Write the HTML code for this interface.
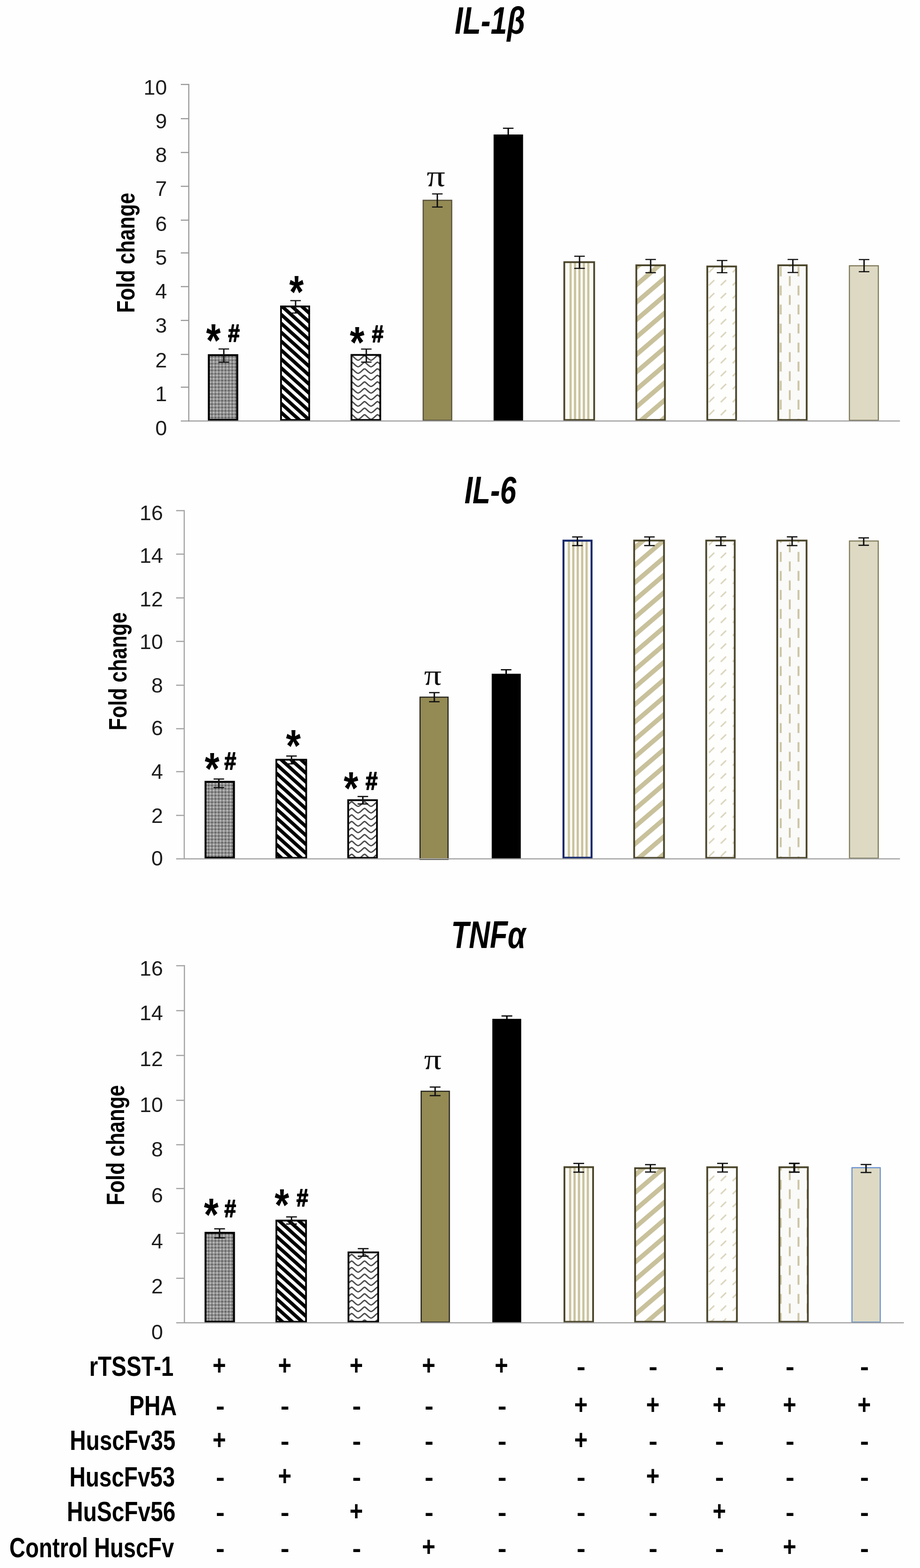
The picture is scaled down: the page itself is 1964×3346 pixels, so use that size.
<!DOCTYPE html>
<html lang="en">
<head>
<meta charset="utf-8">
<title>Cytokine fold change: IL-1β, IL-6, TNFα</title>
<style>
html,body{margin:0;padding:0;background:#fff;}
body{width:1964px;height:3346px;overflow:hidden;}
svg{display:block;}
text{white-space:pre;}
</style>
</head>
<body>
<svg width="1964" height="3346" viewBox="0 0 1964 3346" role="img" aria-label="Bar charts of IL-1β, IL-6 and TNFα fold change">
<rect width="1964" height="3346" fill="#fefefe"/>
<defs>
<pattern id="p1" width="7.2" height="7.2" patternUnits="userSpaceOnUse" patternTransform="translate(447 0)">
  <rect width="7.2" height="7.2" fill="#909090"/>
  <rect x="0.7" y="0.7" width="2.5" height="2.5" fill="#d6d6d6"/>
  <rect x="4.3" y="4.3" width="2.5" height="2.5" fill="#4a4a4a"/>
</pattern>
<pattern id="p2" width="20" height="19" patternUnits="userSpaceOnUse" patternTransform="translate(602.2 705.9) skewY(42)">
  <rect width="20" height="19" fill="#fff"/>
  <rect x="0" y="0" width="20" height="10" fill="#000"/>
</pattern>
<pattern id="p3" width="27.6" height="14" patternUnits="userSpaceOnUse" patternTransform="translate(764.5 827)">
  <rect width="27.6" height="14" fill="#fff"/>
  <g fill="none" stroke="#484848" stroke-width="2.9">
  <path d="M-1,12 C5.5,12 10.3,2 13.8,2 C17.3,2 22.1,12 28.6,12"/>
  <path d="M-1,26 C5.5,26 10.3,16 13.8,16 C17.3,16 22.1,26 28.6,26"/>
  <path d="M-1,-2 C5.5,-2 10.3,-12 13.8,-12 C17.3,-12 22.1,-2 28.6,-2"/>
  </g>
</pattern>
<pattern id="p7" width="30" height="37.2" patternUnits="userSpaceOnUse" patternTransform="translate(1362.3 635.4) skewY(-40.5)">
  <rect width="30" height="37.2" fill="#fff"/>
  <rect x="0" y="0" width="30" height="13" fill="#c8c19b"/>
</pattern>
<pattern id="p8" width="25.3" height="27.7" patternUnits="userSpaceOnUse" patternTransform="translate(1531.7 617.2)">
  <rect width="25.3" height="27.7" fill="#fefefd"/>
  <line x1="7" y1="19.4" x2="18.4" y2="8.3" stroke="#d9d4ba" stroke-width="3"/>
</pattern>
<pattern id="p9" width="37.9" height="40.6" patternUnits="userSpaceOnUse" patternTransform="translate(1667 619.5)">
  <rect width="37.9" height="40.6" fill="#fafaf9"/>
  <rect x="17" y="10.2" width="4" height="21" fill="#cbc4a2"/>
  <rect x="-2.3" y="-10.1" width="4" height="21" fill="#cbc4a2"/>
  <rect x="35.6" y="-10.1" width="4" height="21" fill="#cbc4a2"/>
  <rect x="-2.3" y="30.5" width="4" height="21" fill="#cbc4a2"/>
  <rect x="35.6" y="30.5" width="4" height="21" fill="#cbc4a2"/>
</pattern>
</defs>

<g>
<rect x="445.80" y="757.90" width="60.70" height="138.10" fill="url(#p1)" stroke="#000" stroke-width="4.2"/>
<rect x="599.90" y="653.90" width="60.20" height="242.30" fill="url(#p2)" stroke="#000" stroke-width="3.8"/>
<rect x="750.30" y="757.40" width="61.50" height="138.80" fill="url(#p3)" stroke="#000" stroke-width="3.8"/>
<rect x="903.40" y="427.40" width="60.90" height="469.50" fill="#948a54" stroke="#57523a" stroke-width="2.4"/>
<rect x="1054.20" y="287.50" width="61.90" height="610.10" fill="#000" stroke="#000" stroke-width="1"/>
<rect x="1203.70" y="558.50" width="65.60" height="338.60" fill="#fbfaf5"/>
<rect x="1215.80" y="558.50" width="4.6" height="338.60" fill="#c9c29d"/>
<rect x="1225.25" y="558.50" width="4.6" height="338.60" fill="#c9c29d"/>
<rect x="1234.70" y="558.50" width="4.6" height="338.60" fill="#c9c29d"/>
<rect x="1244.15" y="558.50" width="4.6" height="338.60" fill="#c9c29d"/>
<rect x="1253.60" y="558.50" width="4.6" height="338.60" fill="#c9c29d"/>
<rect x="1204.60" y="559.40" width="63.80" height="336.80" fill="none" stroke="#4a452a" stroke-width="3.8"/>
<rect x="1358.40" y="566.10" width="61.10" height="330.10" fill="url(#p7)" stroke="#4a452a" stroke-width="3.8"/>
<rect x="1509.90" y="568.60" width="61.50" height="327.60" fill="url(#p8)" stroke="#4a452a" stroke-width="3.8"/>
<rect x="1661.40" y="566.10" width="60.70" height="330.10" fill="url(#p9)" stroke="#4a452a" stroke-width="3.8"/>
<rect x="1813.25" y="567.15" width="61.80" height="329.80" fill="#ddd9c3" stroke="#7d7857" stroke-width="2.3"/>
<line x1="403.00" y1="179.00" x2="403.00" y2="899.60" stroke="#999999" stroke-width="2.4"/>
<line x1="386.00" y1="898.40" x2="1921.20" y2="898.40" stroke="#999999" stroke-width="2.4"/>
<line x1="386.00" y1="826.20" x2="403.00" y2="826.20" stroke="#999999" stroke-width="2.4"/>
<line x1="386.00" y1="756.30" x2="403.00" y2="756.30" stroke="#999999" stroke-width="2.4"/>
<line x1="386.00" y1="683.80" x2="403.00" y2="683.80" stroke="#999999" stroke-width="2.4"/>
<line x1="386.00" y1="611.60" x2="403.00" y2="611.60" stroke="#999999" stroke-width="2.4"/>
<line x1="386.00" y1="539.70" x2="403.00" y2="539.70" stroke="#999999" stroke-width="2.4"/>
<line x1="386.00" y1="469.80" x2="403.00" y2="469.80" stroke="#999999" stroke-width="2.4"/>
<line x1="386.00" y1="397.60" x2="403.00" y2="397.60" stroke="#999999" stroke-width="2.4"/>
<line x1="386.00" y1="325.40" x2="403.00" y2="325.40" stroke="#999999" stroke-width="2.4"/>
<line x1="386.00" y1="253.20" x2="403.00" y2="253.20" stroke="#999999" stroke-width="2.4"/>
<line x1="386.00" y1="180.20" x2="403.00" y2="180.20" stroke="#999999" stroke-width="2.4"/>
<text transform="translate(356.50 929.10)" font-family='"Liberation Sans", sans-serif' font-size="45.00" text-anchor="end" fill="#1c1c1c">0</text>
<text transform="translate(356.50 856.30)" font-family='"Liberation Sans", sans-serif' font-size="45.00" text-anchor="end" fill="#1c1c1c">1</text>
<text transform="translate(356.50 784.30)" font-family='"Liberation Sans", sans-serif' font-size="45.00" text-anchor="end" fill="#1c1c1c">2</text>
<text transform="translate(356.50 709.70)" font-family='"Liberation Sans", sans-serif' font-size="45.00" text-anchor="end" fill="#1c1c1c">3</text>
<text transform="translate(356.50 637.00)" font-family='"Liberation Sans", sans-serif' font-size="45.00" text-anchor="end" fill="#1c1c1c">4</text>
<text transform="translate(356.50 565.00)" font-family='"Liberation Sans", sans-serif' font-size="45.00" text-anchor="end" fill="#1c1c1c">5</text>
<text transform="translate(356.50 493.00)" font-family='"Liberation Sans", sans-serif' font-size="45.00" text-anchor="end" fill="#1c1c1c">6</text>
<text transform="translate(356.50 418.00)" font-family='"Liberation Sans", sans-serif' font-size="45.00" text-anchor="end" fill="#1c1c1c">7</text>
<text transform="translate(356.50 345.80)" font-family='"Liberation Sans", sans-serif' font-size="45.00" text-anchor="end" fill="#1c1c1c">8</text>
<text transform="translate(356.50 273.80)" font-family='"Liberation Sans", sans-serif' font-size="45.00" text-anchor="end" fill="#1c1c1c">9</text>
<text transform="translate(356.50 201.70)" font-family='"Liberation Sans", sans-serif' font-size="45.00" text-anchor="end" fill="#1c1c1c">10</text>
<line x1="477.80" y1="744.70" x2="477.80" y2="772.90" stroke="#111" stroke-width="3.0"/>
<line x1="466.55" y1="744.70" x2="489.05" y2="744.70" stroke="#111" stroke-width="2.4"/>
<line x1="466.55" y1="772.90" x2="489.05" y2="772.90" stroke="#111" stroke-width="2.4"/>
<line x1="631.00" y1="641.50" x2="631.00" y2="668.00" stroke="#111" stroke-width="3.0"/>
<line x1="619.75" y1="641.50" x2="642.25" y2="641.50" stroke="#111" stroke-width="2.4"/>
<line x1="619.75" y1="668.00" x2="642.25" y2="668.00" stroke="#111" stroke-width="2.4"/>
<line x1="782.00" y1="744.90" x2="782.00" y2="772.70" stroke="#111" stroke-width="3.0"/>
<line x1="770.75" y1="744.90" x2="793.25" y2="744.90" stroke="#111" stroke-width="2.4"/>
<line x1="770.75" y1="772.70" x2="793.25" y2="772.70" stroke="#111" stroke-width="2.4"/>
<line x1="933.60" y1="413.80" x2="933.60" y2="441.80" stroke="#111" stroke-width="3.0"/>
<line x1="922.35" y1="413.80" x2="944.85" y2="413.80" stroke="#111" stroke-width="2.4"/>
<line x1="922.35" y1="441.80" x2="944.85" y2="441.80" stroke="#111" stroke-width="2.4"/>
<line x1="1085.00" y1="273.70" x2="1085.00" y2="300.00" stroke="#000" stroke-width="3.0"/>
<line x1="1073.75" y1="273.70" x2="1096.25" y2="273.70" stroke="#000" stroke-width="2.4"/>
<line x1="1073.75" y1="300.00" x2="1096.25" y2="300.00" stroke="#000" stroke-width="2.4"/>
<line x1="1237.20" y1="546.80" x2="1237.20" y2="572.70" stroke="#111" stroke-width="3.0"/>
<line x1="1225.95" y1="546.80" x2="1248.45" y2="546.80" stroke="#111" stroke-width="2.4"/>
<line x1="1225.95" y1="572.70" x2="1248.45" y2="572.70" stroke="#111" stroke-width="2.4"/>
<line x1="1389.00" y1="553.70" x2="1389.00" y2="581.90" stroke="#111" stroke-width="3.0"/>
<line x1="1377.75" y1="553.70" x2="1400.25" y2="553.70" stroke="#111" stroke-width="2.4"/>
<line x1="1377.75" y1="581.90" x2="1400.25" y2="581.90" stroke="#111" stroke-width="2.4"/>
<line x1="1541.50" y1="555.90" x2="1541.50" y2="581.90" stroke="#111" stroke-width="3.0"/>
<line x1="1530.25" y1="555.90" x2="1552.75" y2="555.90" stroke="#111" stroke-width="2.4"/>
<line x1="1530.25" y1="581.90" x2="1552.75" y2="581.90" stroke="#111" stroke-width="2.4"/>
<line x1="1692.60" y1="553.70" x2="1692.60" y2="581.50" stroke="#111" stroke-width="3.0"/>
<line x1="1681.35" y1="553.70" x2="1703.85" y2="553.70" stroke="#111" stroke-width="2.4"/>
<line x1="1681.35" y1="581.50" x2="1703.85" y2="581.50" stroke="#111" stroke-width="2.4"/>
<line x1="1844.60" y1="553.90" x2="1844.60" y2="579.80" stroke="#111" stroke-width="3.0"/>
<line x1="1833.35" y1="553.90" x2="1855.85" y2="553.90" stroke="#111" stroke-width="2.4"/>
<line x1="1833.35" y1="579.80" x2="1855.85" y2="579.80" stroke="#111" stroke-width="2.4"/>
<text transform="translate(440.03 760.94) scale(0.7990 1.0000)" font-family='"Liberation Sans", sans-serif' font-size="99.91" font-weight="bold" fill="#000">*</text>
<text transform="translate(487.00 728.82) scale(0.8435 1.0000)" font-family='"Liberation Sans", sans-serif' font-size="52.60" font-weight="bold" fill="#000" stroke="#000" stroke-width="1.84" stroke-linejoin="round">#</text>
<text transform="translate(617.54 657.16) scale(0.8111 1.0000)" font-family='"Liberation Sans", sans-serif' font-size="97.77" font-weight="bold" fill="#000">*</text>
<text transform="translate(746.73 763.04) scale(0.8498 1.0000)" font-family='"Liberation Sans", sans-serif' font-size="94.55" font-weight="bold" fill="#000">*</text>
<text transform="translate(794.00 730.15) scale(0.8771 1.0000)" font-family='"Liberation Sans", sans-serif' font-size="50.79" font-weight="bold" fill="#000" stroke="#000" stroke-width="1.78" stroke-linejoin="round">#</text>
<text transform="translate(910.65 396.57) scale(1.2577 1.0000)" font-family='"Liberation Serif", serif' font-size="62.55" fill="#111">π</text>
<text transform="translate(1046.00 72.00) scale(0.7750 1.0000)" font-family='"Liberation Sans", sans-serif' font-size="81.00" font-weight="bold" font-style="italic" text-anchor="middle" fill="#000">IL-1β</text>
<text transform="translate(287.20 539.50) rotate(-90) scale(0.8000 1.0000)" font-family='"Liberation Sans", sans-serif' font-size="54.50" font-weight="bold" text-anchor="middle" fill="#000">Fold change</text>
</g>
<g>
<rect x="438.80" y="1668.40" width="60.60" height="162.00" fill="url(#p1)" stroke="#000" stroke-width="4.2"/>
<rect x="589.90" y="1621.20" width="63.80" height="209.40" fill="url(#p2)" stroke="#000" stroke-width="3.8"/>
<rect x="743.30" y="1707.50" width="61.40" height="123.10" fill="url(#p3)" stroke="#000" stroke-width="3.8"/>
<rect x="896.70" y="1487.70" width="59.80" height="346.10" fill="#948a54" stroke="#24221a" stroke-width="2.4"/>
<rect x="1050.20" y="1438.20" width="61.00" height="393.80" fill="#000" stroke="#000" stroke-width="1"/>
<rect x="1201.80" y="1152.60" width="62.10" height="678.90" fill="#fbfaf5"/>
<rect x="1212.15" y="1152.60" width="4.6" height="678.90" fill="#c9c29d"/>
<rect x="1221.60" y="1152.60" width="4.6" height="678.90" fill="#c9c29d"/>
<rect x="1231.05" y="1152.60" width="4.6" height="678.90" fill="#c9c29d"/>
<rect x="1240.50" y="1152.60" width="4.6" height="678.90" fill="#c9c29d"/>
<rect x="1249.95" y="1152.60" width="4.6" height="678.90" fill="#c9c29d"/>
<rect x="1202.90" y="1153.70" width="59.90" height="676.70" fill="none" stroke="#14286b" stroke-width="4.2"/>
<rect x="1353.80" y="1153.50" width="63.70" height="677.10" fill="url(#p7)" stroke="#4a452a" stroke-width="3.8"/>
<rect x="1507.60" y="1153.50" width="60.90" height="677.10" fill="url(#p8)" stroke="#4a452a" stroke-width="3.8"/>
<rect x="1659.30" y="1153.50" width="62.50" height="677.10" fill="url(#p9)" stroke="#4a452a" stroke-width="3.8"/>
<rect x="1813.45" y="1154.45" width="61.40" height="676.90" fill="#ddd9c3" stroke="#7d7857" stroke-width="2.3"/>
<line x1="393.30" y1="1088.45" x2="393.30" y2="1834.05" stroke="#a4a4a4" stroke-width="2.5"/>
<line x1="376.00" y1="1832.80" x2="1921.20" y2="1832.80" stroke="#a4a4a4" stroke-width="2.5"/>
<line x1="376.00" y1="1740.00" x2="393.30" y2="1740.00" stroke="#a4a4a4" stroke-width="2.5"/>
<line x1="376.00" y1="1646.70" x2="393.30" y2="1646.70" stroke="#a4a4a4" stroke-width="2.5"/>
<line x1="376.00" y1="1555.00" x2="393.30" y2="1555.00" stroke="#a4a4a4" stroke-width="2.5"/>
<line x1="376.00" y1="1462.20" x2="393.30" y2="1462.20" stroke="#a4a4a4" stroke-width="2.5"/>
<line x1="376.00" y1="1368.70" x2="393.30" y2="1368.70" stroke="#a4a4a4" stroke-width="2.5"/>
<line x1="376.00" y1="1275.90" x2="393.30" y2="1275.90" stroke="#a4a4a4" stroke-width="2.5"/>
<line x1="376.00" y1="1182.50" x2="393.30" y2="1182.50" stroke="#a4a4a4" stroke-width="2.5"/>
<line x1="376.00" y1="1089.70" x2="393.30" y2="1089.70" stroke="#a4a4a4" stroke-width="2.5"/>
<text transform="translate(348.00 1847.30)" font-family='"Liberation Sans", sans-serif' font-size="45.00" text-anchor="end" fill="#1c1c1c">0</text>
<text transform="translate(348.00 1756.10)" font-family='"Liberation Sans", sans-serif' font-size="45.00" text-anchor="end" fill="#1c1c1c">2</text>
<text transform="translate(348.00 1662.30)" font-family='"Liberation Sans", sans-serif' font-size="45.00" text-anchor="end" fill="#1c1c1c">4</text>
<text transform="translate(348.00 1569.30)" font-family='"Liberation Sans", sans-serif' font-size="45.00" text-anchor="end" fill="#1c1c1c">6</text>
<text transform="translate(348.00 1478.10)" font-family='"Liberation Sans", sans-serif' font-size="45.00" text-anchor="end" fill="#1c1c1c">8</text>
<text transform="translate(348.00 1385.10)" font-family='"Liberation Sans", sans-serif' font-size="45.00" text-anchor="end" fill="#1c1c1c">10</text>
<text transform="translate(348.00 1294.30)" font-family='"Liberation Sans", sans-serif' font-size="45.00" text-anchor="end" fill="#1c1c1c">12</text>
<text transform="translate(348.00 1201.20)" font-family='"Liberation Sans", sans-serif' font-size="45.00" text-anchor="end" fill="#1c1c1c">14</text>
<text transform="translate(348.00 1110.00)" font-family='"Liberation Sans", sans-serif' font-size="45.00" text-anchor="end" fill="#1c1c1c">16</text>
<line x1="467.20" y1="1662.40" x2="467.20" y2="1680.70" stroke="#111" stroke-width="3.1"/>
<line x1="455.95" y1="1662.40" x2="478.45" y2="1662.40" stroke="#111" stroke-width="2.6"/>
<line x1="455.95" y1="1680.70" x2="478.45" y2="1680.70" stroke="#111" stroke-width="2.6"/>
<line x1="622.30" y1="1613.30" x2="622.30" y2="1630.00" stroke="#111" stroke-width="3.1"/>
<line x1="611.05" y1="1613.30" x2="633.55" y2="1613.30" stroke="#111" stroke-width="2.6"/>
<line x1="611.05" y1="1630.00" x2="633.55" y2="1630.00" stroke="#111" stroke-width="2.6"/>
<line x1="774.60" y1="1699.70" x2="774.60" y2="1715.60" stroke="#111" stroke-width="3.1"/>
<line x1="763.35" y1="1699.70" x2="785.85" y2="1699.70" stroke="#111" stroke-width="2.6"/>
<line x1="763.35" y1="1715.60" x2="785.85" y2="1715.60" stroke="#111" stroke-width="2.6"/>
<line x1="927.20" y1="1478.00" x2="927.20" y2="1497.40" stroke="#111" stroke-width="3.1"/>
<line x1="915.95" y1="1478.00" x2="938.45" y2="1478.00" stroke="#111" stroke-width="2.6"/>
<line x1="915.95" y1="1497.40" x2="938.45" y2="1497.40" stroke="#111" stroke-width="2.6"/>
<line x1="1080.50" y1="1429.20" x2="1080.50" y2="1446.00" stroke="#000" stroke-width="3.1"/>
<line x1="1069.25" y1="1429.20" x2="1091.75" y2="1429.20" stroke="#000" stroke-width="2.6"/>
<line x1="1069.25" y1="1446.00" x2="1091.75" y2="1446.00" stroke="#000" stroke-width="2.6"/>
<line x1="1232.60" y1="1145.80" x2="1232.60" y2="1164.20" stroke="#111" stroke-width="3.1"/>
<line x1="1221.35" y1="1145.80" x2="1243.85" y2="1145.80" stroke="#111" stroke-width="2.6"/>
<line x1="1221.35" y1="1164.20" x2="1243.85" y2="1164.20" stroke="#111" stroke-width="2.6"/>
<line x1="1386.40" y1="1145.80" x2="1386.40" y2="1164.20" stroke="#111" stroke-width="3.1"/>
<line x1="1375.15" y1="1145.80" x2="1397.65" y2="1145.80" stroke="#111" stroke-width="2.6"/>
<line x1="1375.15" y1="1164.20" x2="1397.65" y2="1164.20" stroke="#111" stroke-width="2.6"/>
<line x1="1538.90" y1="1145.60" x2="1538.90" y2="1164.20" stroke="#111" stroke-width="3.1"/>
<line x1="1527.65" y1="1145.60" x2="1550.15" y2="1145.60" stroke="#111" stroke-width="2.6"/>
<line x1="1527.65" y1="1164.20" x2="1550.15" y2="1164.20" stroke="#111" stroke-width="2.6"/>
<line x1="1691.00" y1="1145.60" x2="1691.00" y2="1164.20" stroke="#111" stroke-width="3.1"/>
<line x1="1679.75" y1="1145.60" x2="1702.25" y2="1145.60" stroke="#111" stroke-width="2.6"/>
<line x1="1679.75" y1="1164.20" x2="1702.25" y2="1164.20" stroke="#111" stroke-width="2.6"/>
<line x1="1843.80" y1="1147.80" x2="1843.80" y2="1163.60" stroke="#111" stroke-width="3.1"/>
<line x1="1832.55" y1="1147.80" x2="1855.05" y2="1147.80" stroke="#111" stroke-width="2.6"/>
<line x1="1832.55" y1="1163.60" x2="1855.05" y2="1163.60" stroke="#111" stroke-width="2.6"/>
<text transform="translate(437.03 1672.99) scale(0.8317 1.0000)" font-family='"Liberation Sans", sans-serif' font-size="97.23" font-weight="bold" fill="#000">*</text>
<text transform="translate(479.00 1642.32) scale(0.8606 1.0000)" font-family='"Liberation Sans", sans-serif' font-size="52.60" font-weight="bold" fill="#000" stroke="#000" stroke-width="1.84" stroke-linejoin="round">#</text>
<text transform="translate(610.43 1623.71) scale(0.8367 1.0000)" font-family='"Liberation Sans", sans-serif' font-size="96.96" font-weight="bold" fill="#000">*</text>
<text transform="translate(733.73 1716.01) scale(0.8125 1.0000)" font-family='"Liberation Sans", sans-serif' font-size="98.57" font-weight="bold" fill="#000">*</text>
<text transform="translate(780.60 1684.52) scale(0.8696 1.0000)" font-family='"Liberation Sans", sans-serif' font-size="52.88" font-weight="bold" fill="#000" stroke="#000" stroke-width="1.85" stroke-linejoin="round">#</text>
<text transform="translate(905.21 1461.28) scale(1.1961 1.0000)" font-family='"Liberation Serif", serif' font-size="61.91" fill="#111">π</text>
<text transform="translate(1046.80 1074.40) scale(0.7650 1.0000)" font-family='"Liberation Sans", sans-serif' font-size="81.50" font-weight="bold" font-style="italic" text-anchor="middle" fill="#000">IL-6</text>
<text transform="translate(269.90 1432.50) rotate(-90) scale(0.8000 1.0000)" font-family='"Liberation Sans", sans-serif' font-size="53.50" font-weight="bold" text-anchor="middle" fill="#000">Fold change</text>
</g>
<g>
<rect x="438.80" y="2630.80" width="60.70" height="189.60" fill="url(#p1)" stroke="#000" stroke-width="4.2"/>
<rect x="590.00" y="2604.60" width="63.30" height="216.00" fill="url(#p2)" stroke="#000" stroke-width="3.8"/>
<rect x="743.90" y="2672.50" width="63.40" height="148.10" fill="url(#p3)" stroke="#000" stroke-width="3.8"/>
<rect x="899.10" y="2328.70" width="60.20" height="492.60" fill="#948a54" stroke="#24221a" stroke-width="2.4"/>
<rect x="1051.50" y="2174.70" width="60.60" height="647.30" fill="#000" stroke="#000" stroke-width="1"/>
<rect x="1204.00" y="2489.70" width="63.00" height="331.80" fill="#fbfaf5"/>
<rect x="1214.80" y="2489.70" width="4.6" height="331.80" fill="#c9c29d"/>
<rect x="1224.25" y="2489.70" width="4.6" height="331.80" fill="#c9c29d"/>
<rect x="1233.70" y="2489.70" width="4.6" height="331.80" fill="#c9c29d"/>
<rect x="1243.15" y="2489.70" width="4.6" height="331.80" fill="#c9c29d"/>
<rect x="1252.60" y="2489.70" width="4.6" height="331.80" fill="#c9c29d"/>
<rect x="1204.90" y="2490.60" width="61.20" height="330.00" fill="none" stroke="#4a452a" stroke-width="3.8"/>
<rect x="1355.80" y="2492.90" width="63.70" height="327.70" fill="url(#p7)" stroke="#4a452a" stroke-width="3.8"/>
<rect x="1509.80" y="2490.80" width="63.30" height="329.80" fill="url(#p8)" stroke="#4a452a" stroke-width="3.8"/>
<rect x="1663.80" y="2490.80" width="60.80" height="329.80" fill="url(#p9)" stroke="#4a452a" stroke-width="3.8"/>
<rect x="1818.75" y="2491.75" width="60.40" height="329.60" fill="#ddd9c3" stroke="#6590cf" stroke-width="2.3"/>
<line x1="393.70" y1="2059.55" x2="393.70" y2="2824.05" stroke="#a4a4a4" stroke-width="2.5"/>
<line x1="376.20" y1="2822.80" x2="1929.60" y2="2822.80" stroke="#a4a4a4" stroke-width="2.5"/>
<line x1="376.20" y1="2727.80" x2="393.70" y2="2727.80" stroke="#a4a4a4" stroke-width="2.5"/>
<line x1="376.20" y1="2631.70" x2="393.70" y2="2631.70" stroke="#a4a4a4" stroke-width="2.5"/>
<line x1="376.20" y1="2536.20" x2="393.70" y2="2536.20" stroke="#a4a4a4" stroke-width="2.5"/>
<line x1="376.20" y1="2442.80" x2="393.70" y2="2442.80" stroke="#a4a4a4" stroke-width="2.5"/>
<line x1="376.20" y1="2348.00" x2="393.70" y2="2348.00" stroke="#a4a4a4" stroke-width="2.5"/>
<line x1="376.20" y1="2252.20" x2="393.70" y2="2252.20" stroke="#a4a4a4" stroke-width="2.5"/>
<line x1="376.20" y1="2156.70" x2="393.70" y2="2156.70" stroke="#a4a4a4" stroke-width="2.5"/>
<line x1="376.20" y1="2060.80" x2="393.70" y2="2060.80" stroke="#a4a4a4" stroke-width="2.5"/>
<text transform="translate(348.00 2857.50)" font-family='"Liberation Sans", sans-serif' font-size="45.00" text-anchor="end" fill="#1c1c1c">0</text>
<text transform="translate(348.00 2760.10)" font-family='"Liberation Sans", sans-serif' font-size="45.00" text-anchor="end" fill="#1c1c1c">2</text>
<text transform="translate(348.00 2664.10)" font-family='"Liberation Sans", sans-serif' font-size="45.00" text-anchor="end" fill="#1c1c1c">4</text>
<text transform="translate(348.00 2566.30)" font-family='"Liberation Sans", sans-serif' font-size="45.00" text-anchor="end" fill="#1c1c1c">6</text>
<text transform="translate(348.00 2468.30)" font-family='"Liberation Sans", sans-serif' font-size="45.00" text-anchor="end" fill="#1c1c1c">8</text>
<text transform="translate(348.00 2373.10)" font-family='"Liberation Sans", sans-serif' font-size="45.00" text-anchor="end" fill="#1c1c1c">10</text>
<text transform="translate(348.00 2275.40)" font-family='"Liberation Sans", sans-serif' font-size="45.00" text-anchor="end" fill="#1c1c1c">12</text>
<text transform="translate(348.00 2177.40)" font-family='"Liberation Sans", sans-serif' font-size="45.00" text-anchor="end" fill="#1c1c1c">14</text>
<text transform="translate(348.00 2081.80)" font-family='"Liberation Sans", sans-serif' font-size="45.00" text-anchor="end" fill="#1c1c1c">16</text>
<line x1="468.80" y1="2622.20" x2="468.80" y2="2641.60" stroke="#111" stroke-width="3.1"/>
<line x1="457.30" y1="2622.20" x2="480.30" y2="2622.20" stroke="#111" stroke-width="2.6"/>
<line x1="457.30" y1="2641.60" x2="480.30" y2="2641.60" stroke="#111" stroke-width="2.6"/>
<line x1="622.30" y1="2596.80" x2="622.30" y2="2612.00" stroke="#111" stroke-width="3.1"/>
<line x1="610.80" y1="2596.80" x2="633.80" y2="2596.80" stroke="#111" stroke-width="2.6"/>
<line x1="610.80" y1="2612.00" x2="633.80" y2="2612.00" stroke="#111" stroke-width="2.6"/>
<line x1="775.30" y1="2664.50" x2="775.30" y2="2680.70" stroke="#111" stroke-width="3.1"/>
<line x1="763.80" y1="2664.50" x2="786.80" y2="2664.50" stroke="#111" stroke-width="2.6"/>
<line x1="763.80" y1="2680.70" x2="786.80" y2="2680.70" stroke="#111" stroke-width="2.6"/>
<line x1="928.90" y1="2319.70" x2="928.90" y2="2338.00" stroke="#111" stroke-width="3.1"/>
<line x1="917.40" y1="2319.70" x2="940.40" y2="2319.70" stroke="#111" stroke-width="2.6"/>
<line x1="917.40" y1="2338.00" x2="940.40" y2="2338.00" stroke="#111" stroke-width="2.6"/>
<line x1="1082.10" y1="2168.00" x2="1082.10" y2="2182.00" stroke="#000" stroke-width="3.1"/>
<line x1="1070.60" y1="2168.00" x2="1093.60" y2="2168.00" stroke="#000" stroke-width="2.6"/>
<line x1="1070.60" y1="2182.00" x2="1093.60" y2="2182.00" stroke="#000" stroke-width="2.6"/>
<line x1="1235.50" y1="2482.70" x2="1235.50" y2="2501.30" stroke="#111" stroke-width="3.1"/>
<line x1="1224.00" y1="2482.70" x2="1247.00" y2="2482.70" stroke="#111" stroke-width="2.6"/>
<line x1="1224.00" y1="2501.30" x2="1247.00" y2="2501.30" stroke="#111" stroke-width="2.6"/>
<line x1="1388.50" y1="2485.20" x2="1388.50" y2="2501.00" stroke="#111" stroke-width="3.1"/>
<line x1="1377.00" y1="2485.20" x2="1400.00" y2="2485.20" stroke="#111" stroke-width="2.6"/>
<line x1="1377.00" y1="2501.00" x2="1400.00" y2="2501.00" stroke="#111" stroke-width="2.6"/>
<line x1="1542.50" y1="2482.60" x2="1542.50" y2="2501.00" stroke="#111" stroke-width="3.1"/>
<line x1="1531.00" y1="2482.60" x2="1554.00" y2="2482.60" stroke="#111" stroke-width="2.6"/>
<line x1="1531.00" y1="2501.00" x2="1554.00" y2="2501.00" stroke="#111" stroke-width="2.6"/>
<line x1="1695.60" y1="2482.60" x2="1695.60" y2="2501.20" stroke="#111" stroke-width="4.4"/>
<line x1="1684.10" y1="2482.60" x2="1707.10" y2="2482.60" stroke="#111" stroke-width="3.2"/>
<line x1="1684.10" y1="2501.20" x2="1707.10" y2="2501.20" stroke="#111" stroke-width="3.2"/>
<line x1="1848.80" y1="2485.00" x2="1848.80" y2="2502.00" stroke="#111" stroke-width="3.1"/>
<line x1="1837.30" y1="2485.00" x2="1860.30" y2="2485.00" stroke="#111" stroke-width="2.6"/>
<line x1="1837.30" y1="2502.00" x2="1860.30" y2="2502.00" stroke="#111" stroke-width="2.6"/>
<text transform="translate(435.33 2626.07) scale(0.8294 1.0000)" font-family='"Liberation Sans", sans-serif' font-size="97.50" font-weight="bold" fill="#000">*</text>
<text transform="translate(479.00 2597.43) scale(0.8537 1.0000)" font-family='"Liberation Sans", sans-serif' font-size="52.19" font-weight="bold" fill="#000" stroke="#000" stroke-width="1.83" stroke-linejoin="round">#</text>
<text transform="translate(586.23 2604.18) scale(0.8348 1.0000)" font-family='"Liberation Sans", sans-serif' font-size="95.63" font-weight="bold" fill="#000">*</text>
<text transform="translate(633.00 2574.13) scale(0.8583 1.0000)" font-family='"Liberation Sans", sans-serif' font-size="52.33" font-weight="bold" fill="#000" stroke="#000" stroke-width="1.83" stroke-linejoin="round">#</text>
<text transform="translate(905.31 2281.38) scale(1.2029 1.0000)" font-family='"Liberation Serif", serif' font-size="61.91" fill="#111">π</text>
<text transform="translate(1042.70 2023.00) scale(0.7620 1.0000)" font-family='"Liberation Sans", sans-serif' font-size="81.50" font-weight="bold" font-style="italic" text-anchor="middle" fill="#000">TNFα</text>
<text transform="translate(264.60 2443.80) rotate(-90) scale(0.8000 1.0000)" font-family='"Liberation Sans", sans-serif' font-size="54.50" font-weight="bold" text-anchor="middle" fill="#000">Fold change</text>
</g>
<g>
<text transform="translate(190.42 2935.50) scale(0.7950 1.0000)" font-family='"Liberation Sans", sans-serif' font-size="60.00" font-weight="bold" fill="#000">rTSST-1</text>
<text transform="translate(453.87 2933.90) scale(0.8200 1.0000)" font-family='"Liberation Sans", sans-serif' font-size="60.00" font-weight="bold" fill="#000">+</text>
<text transform="translate(593.57 2933.90) scale(0.8200 1.0000)" font-family='"Liberation Sans", sans-serif' font-size="60.00" font-weight="bold" fill="#000">+</text>
<text transform="translate(746.27 2933.90) scale(0.8200 1.0000)" font-family='"Liberation Sans", sans-serif' font-size="60.00" font-weight="bold" fill="#000">+</text>
<text transform="translate(900.87 2933.90) scale(0.8200 1.0000)" font-family='"Liberation Sans", sans-serif' font-size="60.00" font-weight="bold" fill="#000">+</text>
<text transform="translate(1056.07 2933.90) scale(0.8200 1.0000)" font-family='"Liberation Sans", sans-serif' font-size="60.00" font-weight="bold" fill="#000">+</text>
<text transform="translate(1231.10 2935.33) scale(0.9500 0.8800)" font-family='"Liberation Sans", sans-serif' font-size="60.00" font-weight="bold" fill="#000">-</text>
<text transform="translate(1384.70 2935.33) scale(0.9500 0.8800)" font-family='"Liberation Sans", sans-serif' font-size="60.00" font-weight="bold" fill="#000">-</text>
<text transform="translate(1526.60 2935.33) scale(0.9500 0.8800)" font-family='"Liberation Sans", sans-serif' font-size="60.00" font-weight="bold" fill="#000">-</text>
<text transform="translate(1677.10 2935.33) scale(0.9500 0.8800)" font-family='"Liberation Sans", sans-serif' font-size="60.00" font-weight="bold" fill="#000">-</text>
<text transform="translate(1835.90 2935.33) scale(0.9500 0.8800)" font-family='"Liberation Sans", sans-serif' font-size="60.00" font-weight="bold" fill="#000">-</text>
<text transform="translate(276.00 3019.50) scale(0.8008 1.0000)" font-family='"Liberation Sans", sans-serif' font-size="60.00" font-weight="bold" fill="#000">PHA</text>
<text transform="translate(460.80 3019.33) scale(0.9500 0.8800)" font-family='"Liberation Sans", sans-serif' font-size="60.00" font-weight="bold" fill="#000">-</text>
<text transform="translate(598.70 3019.33) scale(0.9500 0.8800)" font-family='"Liberation Sans", sans-serif' font-size="60.00" font-weight="bold" fill="#000">-</text>
<text transform="translate(752.10 3019.33) scale(0.9500 0.8800)" font-family='"Liberation Sans", sans-serif' font-size="60.00" font-weight="bold" fill="#000">-</text>
<text transform="translate(906.40 3019.33) scale(0.9500 0.8800)" font-family='"Liberation Sans", sans-serif' font-size="60.00" font-weight="bold" fill="#000">-</text>
<text transform="translate(1062.60 3019.33) scale(0.9500 0.8800)" font-family='"Liberation Sans", sans-serif' font-size="60.00" font-weight="bold" fill="#000">-</text>
<text transform="translate(1225.67 3017.90) scale(0.8200 1.0000)" font-family='"Liberation Sans", sans-serif' font-size="60.00" font-weight="bold" fill="#000">+</text>
<text transform="translate(1379.27 3017.90) scale(0.8200 1.0000)" font-family='"Liberation Sans", sans-serif' font-size="60.00" font-weight="bold" fill="#000">+</text>
<text transform="translate(1521.17 3017.90) scale(0.8200 1.0000)" font-family='"Liberation Sans", sans-serif' font-size="60.00" font-weight="bold" fill="#000">+</text>
<text transform="translate(1671.17 3017.90) scale(0.8200 1.0000)" font-family='"Liberation Sans", sans-serif' font-size="60.00" font-weight="bold" fill="#000">+</text>
<text transform="translate(1830.47 3017.90) scale(0.8200 1.0000)" font-family='"Liberation Sans", sans-serif' font-size="60.00" font-weight="bold" fill="#000">+</text>
<text transform="translate(149.02 3094.20) scale(0.7955 1.0000)" font-family='"Liberation Sans", sans-serif' font-size="60.00" font-weight="bold" fill="#000">HuscFv35</text>
<text transform="translate(453.87 3092.60) scale(0.8200 1.0000)" font-family='"Liberation Sans", sans-serif' font-size="60.00" font-weight="bold" fill="#000">+</text>
<text transform="translate(598.70 3094.03) scale(0.9500 0.8800)" font-family='"Liberation Sans", sans-serif' font-size="60.00" font-weight="bold" fill="#000">-</text>
<text transform="translate(752.10 3094.03) scale(0.9500 0.8800)" font-family='"Liberation Sans", sans-serif' font-size="60.00" font-weight="bold" fill="#000">-</text>
<text transform="translate(906.40 3094.03) scale(0.9500 0.8800)" font-family='"Liberation Sans", sans-serif' font-size="60.00" font-weight="bold" fill="#000">-</text>
<text transform="translate(1062.60 3094.03) scale(0.9500 0.8800)" font-family='"Liberation Sans", sans-serif' font-size="60.00" font-weight="bold" fill="#000">-</text>
<text transform="translate(1225.67 3092.60) scale(0.8200 1.0000)" font-family='"Liberation Sans", sans-serif' font-size="60.00" font-weight="bold" fill="#000">+</text>
<text transform="translate(1384.70 3094.03) scale(0.9500 0.8800)" font-family='"Liberation Sans", sans-serif' font-size="60.00" font-weight="bold" fill="#000">-</text>
<text transform="translate(1526.60 3094.03) scale(0.9500 0.8800)" font-family='"Liberation Sans", sans-serif' font-size="60.00" font-weight="bold" fill="#000">-</text>
<text transform="translate(1677.10 3094.03) scale(0.9500 0.8800)" font-family='"Liberation Sans", sans-serif' font-size="60.00" font-weight="bold" fill="#000">-</text>
<text transform="translate(1835.90 3094.03) scale(0.9500 0.8800)" font-family='"Liberation Sans", sans-serif' font-size="60.00" font-weight="bold" fill="#000">-</text>
<text transform="translate(148.32 3171.50) scale(0.7945 1.0000)" font-family='"Liberation Sans", sans-serif' font-size="60.00" font-weight="bold" fill="#000">HuscFv53</text>
<text transform="translate(460.80 3171.33) scale(0.9500 0.8800)" font-family='"Liberation Sans", sans-serif' font-size="60.00" font-weight="bold" fill="#000">-</text>
<text transform="translate(593.57 3169.90) scale(0.8200 1.0000)" font-family='"Liberation Sans", sans-serif' font-size="60.00" font-weight="bold" fill="#000">+</text>
<text transform="translate(752.10 3171.33) scale(0.9500 0.8800)" font-family='"Liberation Sans", sans-serif' font-size="60.00" font-weight="bold" fill="#000">-</text>
<text transform="translate(906.40 3171.33) scale(0.9500 0.8800)" font-family='"Liberation Sans", sans-serif' font-size="60.00" font-weight="bold" fill="#000">-</text>
<text transform="translate(1062.60 3171.33) scale(0.9500 0.8800)" font-family='"Liberation Sans", sans-serif' font-size="60.00" font-weight="bold" fill="#000">-</text>
<text transform="translate(1231.10 3171.33) scale(0.9500 0.8800)" font-family='"Liberation Sans", sans-serif' font-size="60.00" font-weight="bold" fill="#000">-</text>
<text transform="translate(1379.27 3169.90) scale(0.8200 1.0000)" font-family='"Liberation Sans", sans-serif' font-size="60.00" font-weight="bold" fill="#000">+</text>
<text transform="translate(1526.60 3171.33) scale(0.9500 0.8800)" font-family='"Liberation Sans", sans-serif' font-size="60.00" font-weight="bold" fill="#000">-</text>
<text transform="translate(1677.10 3171.33) scale(0.9500 0.8800)" font-family='"Liberation Sans", sans-serif' font-size="60.00" font-weight="bold" fill="#000">-</text>
<text transform="translate(1835.90 3171.33) scale(0.9500 0.8800)" font-family='"Liberation Sans", sans-serif' font-size="60.00" font-weight="bold" fill="#000">-</text>
<text transform="translate(142.80 3246.20) scale(0.7989 1.0000)" font-family='"Liberation Sans", sans-serif' font-size="60.00" font-weight="bold" fill="#000">HuScFv56</text>
<text transform="translate(460.80 3246.03) scale(0.9500 0.8800)" font-family='"Liberation Sans", sans-serif' font-size="60.00" font-weight="bold" fill="#000">-</text>
<text transform="translate(598.70 3246.03) scale(0.9500 0.8800)" font-family='"Liberation Sans", sans-serif' font-size="60.00" font-weight="bold" fill="#000">-</text>
<text transform="translate(746.27 3244.60) scale(0.8200 1.0000)" font-family='"Liberation Sans", sans-serif' font-size="60.00" font-weight="bold" fill="#000">+</text>
<text transform="translate(906.40 3246.03) scale(0.9500 0.8800)" font-family='"Liberation Sans", sans-serif' font-size="60.00" font-weight="bold" fill="#000">-</text>
<text transform="translate(1062.60 3246.03) scale(0.9500 0.8800)" font-family='"Liberation Sans", sans-serif' font-size="60.00" font-weight="bold" fill="#000">-</text>
<text transform="translate(1231.10 3246.03) scale(0.9500 0.8800)" font-family='"Liberation Sans", sans-serif' font-size="60.00" font-weight="bold" fill="#000">-</text>
<text transform="translate(1384.70 3246.03) scale(0.9500 0.8800)" font-family='"Liberation Sans", sans-serif' font-size="60.00" font-weight="bold" fill="#000">-</text>
<text transform="translate(1521.17 3244.60) scale(0.8200 1.0000)" font-family='"Liberation Sans", sans-serif' font-size="60.00" font-weight="bold" fill="#000">+</text>
<text transform="translate(1677.10 3246.03) scale(0.9500 0.8800)" font-family='"Liberation Sans", sans-serif' font-size="60.00" font-weight="bold" fill="#000">-</text>
<text transform="translate(1835.90 3246.03) scale(0.9500 0.8800)" font-family='"Liberation Sans", sans-serif' font-size="60.00" font-weight="bold" fill="#000">-</text>
<text transform="translate(20.11 3323.00) scale(0.7865 1.0000)" font-family='"Liberation Sans", sans-serif' font-size="60.00" font-weight="bold" fill="#000">Control HuscFv</text>
<text transform="translate(460.80 3322.83) scale(0.9500 0.8800)" font-family='"Liberation Sans", sans-serif' font-size="60.00" font-weight="bold" fill="#000">-</text>
<text transform="translate(598.70 3322.83) scale(0.9500 0.8800)" font-family='"Liberation Sans", sans-serif' font-size="60.00" font-weight="bold" fill="#000">-</text>
<text transform="translate(752.10 3322.83) scale(0.9500 0.8800)" font-family='"Liberation Sans", sans-serif' font-size="60.00" font-weight="bold" fill="#000">-</text>
<text transform="translate(900.87 3321.40) scale(0.8200 1.0000)" font-family='"Liberation Sans", sans-serif' font-size="60.00" font-weight="bold" fill="#000">+</text>
<text transform="translate(1062.60 3322.83) scale(0.9500 0.8800)" font-family='"Liberation Sans", sans-serif' font-size="60.00" font-weight="bold" fill="#000">-</text>
<text transform="translate(1231.10 3322.83) scale(0.9500 0.8800)" font-family='"Liberation Sans", sans-serif' font-size="60.00" font-weight="bold" fill="#000">-</text>
<text transform="translate(1384.70 3322.83) scale(0.9500 0.8800)" font-family='"Liberation Sans", sans-serif' font-size="60.00" font-weight="bold" fill="#000">-</text>
<text transform="translate(1526.60 3322.83) scale(0.9500 0.8800)" font-family='"Liberation Sans", sans-serif' font-size="60.00" font-weight="bold" fill="#000">-</text>
<text transform="translate(1671.17 3321.40) scale(0.8200 1.0000)" font-family='"Liberation Sans", sans-serif' font-size="60.00" font-weight="bold" fill="#000">+</text>
<text transform="translate(1835.90 3322.83) scale(0.9500 0.8800)" font-family='"Liberation Sans", sans-serif' font-size="60.00" font-weight="bold" fill="#000">-</text>
</g>
</svg>
</body>
</html>
